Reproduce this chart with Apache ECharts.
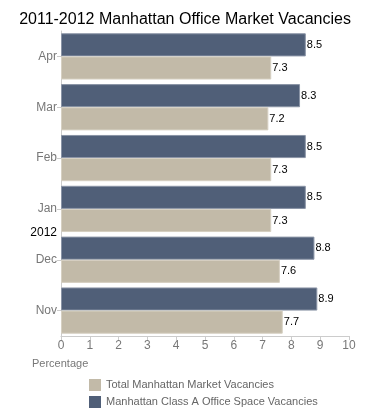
<!DOCTYPE html>
<html>
<head>
<meta charset="utf-8">
<script src="https://cdn.jsdelivr.net/npm/echarts@6/dist/echarts.min.js"></script>
<style>html,body{margin:0;padding:0;background:#fff;}#c{width:370px;height:410px;}</style>
</head>
<body>
<div id="c"></div>
<script>
const categories = ['Nov', 'Dec', 'Jan', 'Feb', 'Mar', 'Apr'];
const totalVacancies = [7.7, 7.6, 7.3, 7.3, 7.2, 7.3];
const classAVacancies = [8.9, 8.8, 8.5, 8.5, 8.3, 8.5];
const xTicks = [0, 1, 2, 3, 4, 5, 6, 7, 8, 9, 10];
const seriesNames = ['Total Manhattan Market Vacancies', 'Manhattan Class A Office Space Vacancies'];
const yearMarker = { label: '2012', between: ['Jan', 'Dec'] };

const font = 'Liberation Sans, Arial, sans-serif';
const chart = echarts.init(document.getElementById('c'), null, { renderer: 'canvas' });
const labelCfg = { show: true, position: 'right', distance: 1, color: '#000', fontSize: 11, fontFamily: font };
chart.setOption({
  animation: false,
  title: {
    text: '2011-2012 Manhattan Office Market Vacancies',
    left: 'center', top: 7,
    textStyle: { fontSize: 16, fontWeight: 'normal', color: '#000', fontFamily: font }
  },
  legend: {
    orient: 'vertical', left: 89, top: 379, height: 60, padding: 0,
    itemWidth: 12, itemHeight: 12, itemGap: 5,
    icon: 'rect',
    itemStyle: { borderWidth: 0 },
    textStyle: { fontSize: 11, color: '#666', fontFamily: font, padding: [0, 0, 0, 0] },
    data: seriesNames
  },
  grid: { left: 61, right: 21, top: 31, bottom: 74, containLabel: false },
  xAxis: {
    type: 'value', min: xTicks[0], max: xTicks[xTicks.length - 1], interval: 1,
    axisLine: { show: true, lineStyle: { color: '#ccc' } },
    axisTick: { show: true, length: 4, lineStyle: { color: '#ccc' } },
    axisLabel: { color: '#777', fontSize: 12, fontFamily: font, margin: 4 },
    splitLine: { show: false }
  },
  yAxis: {
    type: 'category', data: categories,
    axisLine: { show: true, lineStyle: { color: '#ccc' } },
    axisTick: { show: true, length: 4, alignWithLabel: true, lineStyle: { color: '#ccc' } },
    axisLabel: { color: '#777', fontSize: 12, fontFamily: font, margin: 4 }
  },
  series: [
    {
      name: seriesNames[1], type: 'bar', data: classAVacancies,
      barGap: '0%', barCategoryGap: '9%',
      itemStyle: { color: '#505f78', borderColor: '#8a94a6', borderWidth: 1 },
      label: labelCfg
    },
    {
      name: seriesNames[0], type: 'bar', data: totalVacancies,
      barGap: '0%', barCategoryGap: '9%',
      itemStyle: { color: '#c2baa8', borderColor: '#d6d0c2', borderWidth: 1 },
      label: labelCfg
    }
  ]
});
const y1 = chart.convertToPixel({ yAxisIndex: 0 }, yearMarker.between[0]);
const y2 = chart.convertToPixel({ yAxisIndex: 0 }, yearMarker.between[1]);
const x0 = chart.convertToPixel({ xAxisIndex: 0 }, 0);
chart.setOption({
  graphic: [
    { type: 'text', x: x0 - 4, y: (y1 + y2) / 2 - 2,
      style: { text: yearMarker.label, align: 'right', verticalAlign: 'middle', fill: '#000', fontSize: 12, fontFamily: font } },
    { type: 'text', x: 32, y: 364,
      style: { text: 'Percentage', align: 'left', verticalAlign: 'middle', fill: '#777', fontSize: 11, fontFamily: font } }
  ]
});
</script>
</body>
</html>
